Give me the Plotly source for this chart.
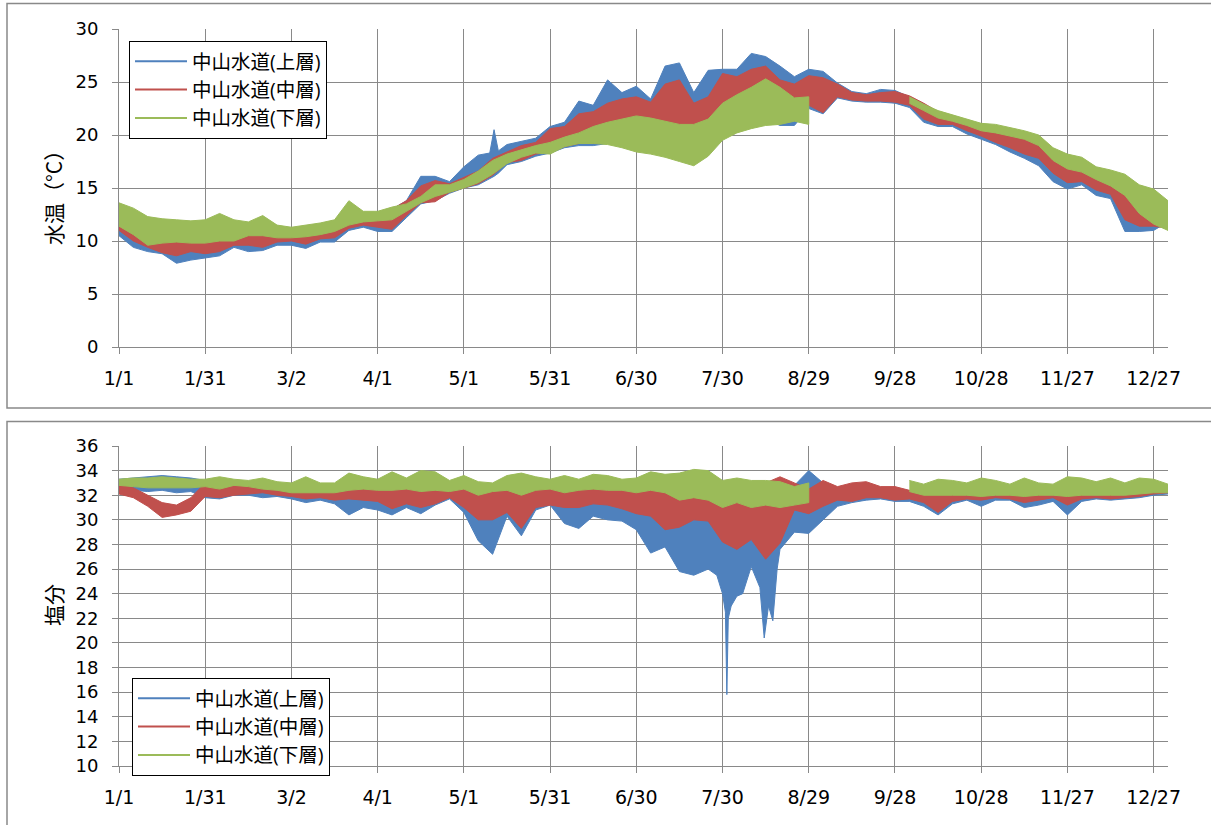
import plotly.graph_objects as go

# ---------------- data ----------------
DAYS = list(range(0, 366, 5))  # day of year, every 5 days (0 = 1/1)
# upper-layer series get a few extra sample days around their narrow spikes
TEMP_UPPER_DAYS = list(range(0, 130, 5)) + [129, 130.5, 132] + list(range(135, 366, 5))
SAL_UPPER_DAYS = (list(range(0, 205, 5))
                  + [205, 208, 210, 211, 211.5, 212, 213, 215, 217, 220, 223,
                     224.5, 226, 227.5, 229, 230]
                  + list(range(235, 366, 5)))

TICK_DAYS = [0, 30, 60, 90, 120, 150, 180, 210, 240, 270, 300, 330, 360]
TICK_LABELS = ["1/1", "1/31", "3/2", "4/1", "5/1", "5/31", "6/30", "7/30",
               "8/29", "9/28", "10/28", "11/27", "12/27"]

SERIES_NAMES = ["中山水道(上層)", "中山水道(中層)", "中山水道(下層)"]
SERIES_COLORS = ["#4F81BD", "#C0504D", "#9BBB59"]

N = None
# ---- water temperature (°C): upper / lower envelope ----
TEMP_UPPER_HI = [13.0, 12.5, 11.8, 11.6, 11.6, 11.5, 11.5, 11.8, 11.5, 11.4,
                 11.8, 11.1, 11.0, 11.2, 11.4, 11.8, 13.0, 12.5, 12.5, 13.0,
                 13.8, 16.1, 16.1, 15.6, 17.0, 18.1, 18.3, 20.5, 18.5, 19.1, 19.4, 19.7,
                 20.8, 21.2, 23.2, 22.8, 25.2, 24.0, 24.6, 23.4, 26.5, 26.8,
                 24.0, 26.1, 26.2, 26.2, 27.7, 27.4, 26.5, 25.5, 26.2, 26.0,
                 24.9, 24.1, 23.9, 24.3, 24.2, 23.6, 22.9, 22.1, 21.7, 21.3,
                 20.8, 20.6, 20.3, 20.0, 19.4, 18.5, 17.9, 17.4, 16.7, 16.3,
                 15.6, 14.9, 14.4, 13.4]
TEMP_UPPER_LO = [10.5, 9.4, 9.0, 8.8, 7.9, 8.2, 8.4, 8.6, 9.4, 9.0,
                 9.1, 9.6, 9.6, 9.3, 9.9, 9.9, 11.0, 11.3, 10.9, 10.9,
                 12.2, 13.5, 13.8, 14.5, 15.0, 15.3, 15.9, 16.1, 16.4, 17.2, 17.5, 18.0,
                 18.3, 18.8, 19.0, 19.0, 19.2, 19.5, 19.4, 19.2, 18.3, 17.6,
                 17.8, 18.8, 20.3, 20.8, 21.3, 21.5, 20.9, 20.9, 22.5, 22.0,
                 23.5, 23.2, 23.1, 23.1, 23.0, 22.6, 21.2, 20.8, 20.8, 20.1,
                 19.6, 19.1, 18.4, 17.8, 17.1, 15.6, 14.9, 15.3, 14.3, 14.0,
                 10.9, 10.9, 11.0, 11.8]
TEMP_MIDDLE_HI = [13.2, 12.8, 12.0, 11.8, 11.8, 11.6, 11.6, 12.0, 11.6, 11.5,
                  12.0, 11.2, 11.2, 11.4, 11.6, 11.9, 13.2, 12.6, 12.6, 13.0,
                  13.8, 15.2, 15.7, 15.4, 16.0, 16.6, 17.8, 18.4, 19.0, 19.3,
                  20.6, 20.8, 22.0, 22.2, 23.0, 23.4, 23.6, 23.1, 24.8, 25.2,
                  23.0, 23.6, 25.8, 25.5, 26.2, 26.5, 25.2, 24.8, 25.6, 25.4,
                  24.8, 24.0, 23.8, 24.0, 24.1, 23.7, 23.0, 22.2, 21.8, 21.4,
                  20.9, 20.7, 20.4, 20.1, 19.5, 18.6, 18.0, 17.5, 16.8, 16.4,
                  15.8, 15.0, 14.5, 13.5]
TEMP_MIDDLE_LO = [11.0, 10.0, 9.4, 8.9, 8.6, 9.0, 8.8, 9.0, 9.6, 9.6,
                  9.4, 9.9, 10.0, 9.7, 10.2, 10.3, 11.2, 11.5, 11.3, 11.1,
                  12.4, 13.6, 13.7, 14.6, 15.0, 15.4, 16.2, 17.4, 17.6, 18.2,
                  18.4, 18.9, 19.2, 19.2, 19.4, 19.7, 19.6, 19.3, 18.5, 17.8,
                  18.0, 19.0, 20.5, 21.0, 21.5, 21.8, 21.6, 22.0, 22.8, 22.1,
                  23.6, 23.3, 23.2, 23.2, 23.1, 22.8, 21.5, 21.0, 21.0, 20.4,
                  19.9, 19.3, 18.8, 18.2, 17.8, 16.4, 15.5, 15.6, 14.8, 14.4,
                  12.0, 11.4, 11.4, 11.2]
TEMP_LOWER_HI = [13.6, 13.1, 12.3, 12.1, 12.0, 11.9, 12.0, 12.6, 12.0, 11.8,
                 12.4, 11.5, 11.3, 11.5, 11.7, 12.0, 13.8, 12.8, 12.8, 13.2,
                 13.5, 14.2, 15.3, 15.3, 15.8, 16.6, 17.6, 18.2, 18.6, 19.0,
                 19.3, 19.8, 20.2, 20.8, 21.2, 21.5, 21.8, 21.6, 21.3, 21.0,
                 21.0, 21.5, 23.0, 23.8, 24.5, 25.3, 24.5, 23.5, 23.6, N,
                 N, N, N, N, N, 23.6, 22.9, 22.3, 21.9, 21.5,
                 21.1, 21.0, 20.7, 20.4, 20.0, 18.8, 18.2, 17.9, 17.0, 16.7,
                 16.3, 15.3, 14.9, 13.8]
TEMP_LOWER_LO = [11.4, 10.6, 9.6, 9.8, 9.9, 9.8, 9.8, 10.0, 10.0, 10.5,
                 10.5, 10.3, 10.3, 10.4, 10.6, 10.9, 11.5, 11.8, 11.9, 12.0,
                 12.8, 13.6, 14.2, 14.6, 15.0, 15.5, 16.3, 17.3, 17.9, 18.3,
                 18.2, 18.9, 19.2, 19.2, 19.1, 18.8, 18.4, 18.2, 17.9, 17.5,
                 17.1, 18.0, 19.5, 20.2, 20.6, 20.9, 21.0, 21.3, 21.0, N,
                 N, N, N, N, N, 23.0, 22.3, 21.6, 21.3, 20.9,
                 20.4, 20.2, 19.9, 19.6, 19.0, 17.6, 16.8, 16.5, 15.8, 15.2,
                 14.3, 12.6, 11.6, 11.0]

# ---- salinity: upper / lower envelope ----
SAL_UPPER_HI = [33.3, 33.4, 33.5, 33.6, 33.5, 33.4, 33.2, 32.9, 33.0, 33.0,
                32.9, 32.7, 32.6, 32.4, 32.5, 32.5, 32.7, 32.7, 32.7, 32.6,
                32.5, 32.7, 32.9, 32.5, 32.9, 32.4, 32.3, 32.7, 32.5, 32.4,
                32.7, 32.6, 32.5, 32.7, 32.6, 32.5, 32.4, 32.5, 32.6, 32.9,
                33.2,
                32.9, 32.5, 32.2, 32.0, 32.0, 32.0, 32.0, 32.4, 32.3, 32.0,
                32.5, 32.8, 32.8, 32.9, 33.0, 33.0,
                32.8, 34.0, 33.0,
                32.6, 32.9, 33.0, 32.6, 32.6, 32.3, 32.1, 32.3, 32.3, 32.3,
                32.4, 32.4, 32.3, 32.4, 32.3, 32.3, 32.5, 32.5, 32.4, 32.5,
                32.5, 32.7, 33.0, 32.5]
SAL_UPPER_LO = [32.3, 32.4, 32.3, 32.4, 32.2, 32.3, 31.8, 31.7, 32.0, 32.0,
                31.8, 31.9, 31.7, 31.4, 31.6, 31.3, 30.4, 31.0, 30.8, 30.4,
                31.0, 30.5, 31.2, 31.7, 30.6, 28.3, 27.2, 30.3, 28.7, 30.8,
                31.2, 29.7, 29.3, 30.3, 30.0, 29.9, 29.2, 27.3, 27.8, 25.8,
                25.5,
                26.0, 25.5, 24.0, 22.5, 15.8, 22.0, 23.0, 23.8, 24.0, 26.2,
                24.5, 20.4, 23.0, 21.8, 26.0, 27.6,
                29.0, 28.9, 30.0,
                31.1, 31.4, 31.6, 31.7, 31.5, 31.5, 31.1, 30.4, 31.3, 31.6,
                31.1, 31.6, 31.6, 31.0, 31.2, 31.5, 30.4, 31.5, 31.7, 31.6,
                31.7, 31.8, 32.0, 32.1]
SAL_MIDDLE_HI = [32.9, 32.6, 32.0, 31.4, 31.2, 31.8, 33.0, 33.0, 33.0, 33.0,
                 32.9, 32.8, 32.6, 32.5, 32.6, 32.6, 32.8, 32.8, 32.8, 32.7,
                 32.6, 32.8, 33.0, 32.6, 33.0, 32.5, 32.4, 32.8, 32.6, 32.5,
                 32.8, 32.7, 32.6, 32.8, 32.7, 32.6, 32.5, 32.6, 32.7, 33.0,
                 33.4, 33.0, 32.2, 32.6, 32.2, 33.0, 33.5, 33.0, 32.5, 33.2,
                 32.7, 33.0, 33.1, 32.7, 32.7, 32.4, 32.2, 32.4, 32.4, 32.4,
                 32.5, 32.5, 32.4, 32.5, 32.4, 32.4, 32.6, 32.6, 32.5, 32.6,
                 32.6, 32.8, 32.9, 32.6]
SAL_MIDDLE_LO = [32.1, 31.8, 31.1, 30.2, 30.4, 30.7, 31.9, 31.8, 32.0, 32.1,
                 32.2, 32.0, 31.9, 31.7, 31.8, 31.6, 31.7, 31.6, 31.5, 30.9,
                 31.3, 31.0, 31.3, 31.8, 31.0, 30.0, 30.0, 30.6, 29.3, 31.0,
                 31.2, 31.0, 31.0, 31.3, 31.2, 30.9, 30.5, 30.3, 29.2, 29.4,
                 30.0, 29.9, 28.2, 27.6, 28.4, 26.8, 28.1, 30.8, 30.5, 31.1,
                 31.6, 31.5, 31.8, 31.8, 31.6, 31.7, 31.4, 30.6, 31.5, 31.7,
                 31.6, 31.8, 31.7, 31.4, 31.6, 31.8, 31.2, 31.7, 31.8, 31.7,
                 31.8, 31.9, 32.1, 32.2]
SAL_LOWER_HI = [33.3, 33.4, 33.4, 33.5, 33.4, 33.3, 33.3, 33.5, 33.3, 33.2,
                33.4, 33.1, 33.0, 33.5, 33.0, 33.0, 33.8, 33.5, 33.3, 33.9,
                33.4, 34.0, 33.9, 33.2, 33.6, 33.1, 33.0, 33.6, 33.8, 33.5,
                33.3, 33.6, 33.3, 33.7, 33.6, 33.3, 33.4, 33.9, 33.7, 33.8,
                34.1, 34.0, 33.2, 33.4, 33.2, 33.2, 33.1, 32.7, 33.0, N,
                N, N, N, N, N, 33.2, 32.9, 33.3, 33.2, 33.0,
                33.4, 33.2, 32.9, 33.4, 33.0, 32.9, 33.5, 33.4, 33.1, 33.4,
                33.0, 33.4, 33.3, 32.9]
SAL_LOWER_LO = [32.8, 32.7, 32.6, 32.6, 32.6, 32.6, 32.7, 32.5, 32.8, 32.7,
                32.5, 32.4, 32.2, 32.2, 32.2, 32.2, 32.4, 32.5, 32.4, 32.4,
                32.5, 32.3, 32.4, 32.3, 32.5, 32.0, 32.3, 32.4, 32.0, 32.4,
                32.5, 32.2, 32.4, 32.5, 32.4, 32.4, 32.2, 32.4, 32.2, 31.6,
                31.8, 31.6, 31.0, 31.4, 31.0, 31.2, 31.0, 31.2, 31.4, N,
                N, N, N, N, N, 32.3, 32.0, 32.0, 32.0, 32.0,
                31.9, 32.0, 32.0, 31.9, 32.0, 32.0, 31.9, 32.0, 32.0, 32.0,
                32.0, 32.1, 32.2, 32.2]

TEMP_TITLE = "水温（°C）"
SAL_TITLE = "塩分"

# ---------------- figure ----------------
W, H = 1211, 825
FONT = "Open Sans, Noto Sans CJK JP, sans-serif"
TICK_FONT = "DejaVu Sans, sans-serif"
GRID = "#898989"


def band(days, hi, lo):
    """Closed polygons (hi forward, lo backward) for each gap-free run."""
    assert len(days) == len(hi) == len(lo), (len(days), len(hi), len(lo))
    xs, ys, run = [], [], []
    for d, h, l in list(zip(days, hi, lo)) + [(None, None, None)]:
        if h is None or l is None:
            if run:
                xs += [r[0] for r in run] + [r[0] for r in reversed(run)] + [None]
                ys += [r[1] for r in run] + [r[2] for r in reversed(run)] + [None]
            run = []
        else:
            run.append((d, h, l))
    return xs, ys


fig = go.Figure()

panels = [
    ("x", "y", "legend", [(TEMP_UPPER_DAYS, TEMP_UPPER_HI, TEMP_UPPER_LO),
                          (DAYS, TEMP_MIDDLE_HI, TEMP_MIDDLE_LO),
                          (DAYS, TEMP_LOWER_HI, TEMP_LOWER_LO)]),
    ("x2", "y2", "legend2", [(SAL_UPPER_DAYS, SAL_UPPER_HI, SAL_UPPER_LO),
                             (DAYS, SAL_MIDDLE_HI, SAL_MIDDLE_LO),
                             (DAYS, SAL_LOWER_HI, SAL_LOWER_LO)]),
]

for xa, ya, lg, series in panels:
    for name, color, (days, hi, lo) in zip(SERIES_NAMES, SERIES_COLORS, series):
        bx, by = band(days, hi, lo)
        fig.add_trace(go.Scatter(
            x=bx, y=by, mode="lines", fill="toself", fillcolor=color,
            line=dict(color=color, width=1), showlegend=False,
            hoverinfo="skip", xaxis=xa, yaxis=ya))
    for name, color in zip(SERIES_NAMES, SERIES_COLORS):
        fig.add_trace(go.Scatter(
            x=[None], y=[None], mode="lines", name=name,
            line=dict(color=color, width=2), legend=lg,
            xaxis=xa, yaxis=ya))

x_dom = [119 / W, 1168 / W]
common_x = dict(
    domain=x_dom, range=[0, 365], tickmode="array", tickvals=TICK_DAYS,
    ticktext=TICK_LABELS, showgrid=True, gridcolor=GRID, gridwidth=1,
    showline=True, linecolor=GRID, linewidth=1, ticks="outside", ticklen=6,
    tickcolor=GRID, tickfont=dict(family=TICK_FONT, size=19, color="#000"),
    zeroline=False, ticklabelstandoff=8, automargin=False,
)
common_y = dict(
    showgrid=True, gridcolor=GRID, gridwidth=1, showline=True,
    linecolor=GRID, linewidth=1, ticks="outside", ticklen=6, tickcolor=GRID,
    tickfont=dict(family=TICK_FONT, size=18, color="#000"), zeroline=False,
    ticklabelstandoff=10, automargin=False,
)

legend_style = dict(
    bgcolor="white", bordercolor="black", borderwidth=1,
    font=dict(family=FONT, size=19.5, color="#000"),
    xanchor="left", yanchor="top", itemwidth=52, tracegroupgap=0,
)

fig.update_layout(
    width=W, height=H,
    margin=dict(l=0, r=0, t=0, b=0, pad=0, autoexpand=False),
    paper_bgcolor="white", plot_bgcolor="white",
    xaxis=dict(anchor="y", **common_x),
    yaxis=dict(anchor="x", domain=[1 - 347 / H, 1 - 29 / H], range=[0, 30],
               dtick=5, **common_y),
    xaxis2=dict(anchor="y2", **common_x),
    yaxis2=dict(anchor="x2", domain=[1 - 766 / H, 1 - 446 / H],
                range=[10, 36], dtick=2, **common_y),
    legend=dict(x=129 / W, y=1 - 41 / H, **legend_style),
    legend2=dict(x=132 / W, y=1 - 678 / H, **legend_style),
    showlegend=True,
    annotations=[
        dict(text=TEMP_TITLE, textangle=-90, xref="paper", yref="paper",
             x=53 / W, y=1 - 192 / H, xanchor="center", yanchor="middle",
             showarrow=False,
             font=dict(family="Noto Sans CJK JP", size=21, color="#000")),
        dict(text=SAL_TITLE, textangle=-90, xref="paper", yref="paper",
             x=53 / W, y=1 - 605 / H, xanchor="center", yanchor="middle",
             showarrow=False,
             font=dict(family="Noto Sans CJK JP", size=21, color="#000")),
    ],
    shapes=[
        dict(type="rect", xref="paper", yref="paper", x0=7 / W, x1=1.01,
             y0=1 - 408 / H, y1=1 - 3.5 / H,
             line=dict(color=GRID, width=1.5)),
        dict(type="rect", xref="paper", yref="paper", x0=7 / W, x1=1.01,
             y0=-0.01, y1=1 - 421.5 / H,
             line=dict(color=GRID, width=1.5)),
    ],
)

fig.write_html("out.html")
